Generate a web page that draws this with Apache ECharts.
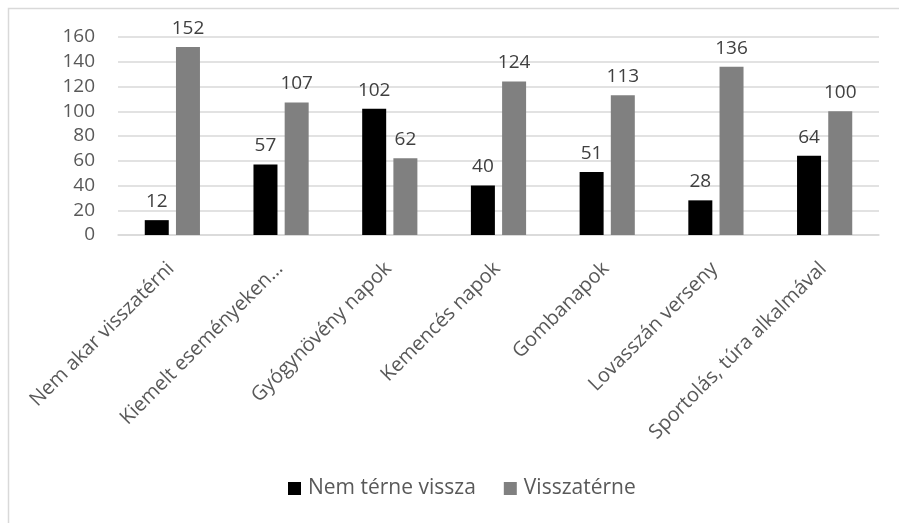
<!DOCTYPE html>
<html>
<head>
<meta charset="utf-8">
<script src="https://cdn.jsdelivr.net/npm/echarts@6/dist/echarts.min.js"></script>
<style>
html,body{margin:0;padding:0;background:#fff;}
#chart{width:899px;height:523px;}
</style>
</head>
<body>
<div id="chart"></div>
<script>
var categories=["Nem akar visszatérni","Kiemelt eseményeken…","Gyógynövény napok","Kemencés napok","Gombanapok","Lovasszán verseny","Sportolás, túra alkalmával"];
var nemTerneVissza=[12,57,102,40,51,28,64];
var visszaterne=[152,107,62,124,113,136,100];
var yTicks=[0,20,40,60,80,100,120,140,160];

var fontName="'Open Sans', sans-serif";
var chart=echarts.init(document.getElementById("chart"));

//keret: csak bal és felső szél látszik
var option={
	animation:false,
	graphic:[{
		type:"rect",
		shape:{x:8.5,y:8.5,width:1000,height:1000},
		style:{fill:"none",stroke:"#d9d9d9",lineWidth:1.5},
		silent:true
	}],
	grid:{left:118,right:20,top:37,bottom:288},
	legend:{
		bottom:19,
		left:283,
		itemWidth:13,
		itemHeight:13,
		itemGap:28,
		icon:"rect",
		textStyle:{fontFamily:fontName,fontSize:21,color:"#595959",padding:[0,0,0,2]},
		data:["Nem térne vissza","Visszatérne"]
	},
	xAxis:{
		type:"category",
		data:categories,
		axisLine:{lineStyle:{color:"#d9d9d9",width:1.5}},
		axisTick:{show:false},
		axisLabel:{
			rotate:45,
			interval:0,
			margin:15,
			verticalAlign:"top",
			padding:[0,12,0,0],
			fontFamily:fontName,
			fontSize:20,
			color:"#595959"
		}
	},
	yAxis:{
		type:"value",
		min:yTicks[0],
		max:yTicks[yTicks.length-1],
		interval:20,
		axisLine:{show:false},
		axisTick:{show:false},
		splitLine:{lineStyle:{color:"#d9d9d9",width:1.5}},
		axisLabel:{
			margin:23,
			fontFamily:fontName,
			fontSize:19,
			color:"#595959"
		}
	},
	series:[
		{
			name:"Nem térne vissza",
			type:"bar",
			data:nemTerneVissza,
			barWidth:24,
			barGap:"30%",
			itemStyle:{color:"#000000"},
			label:{show:true,position:"top",distance:9,fontFamily:fontName,fontSize:19,color:"#404040"}
		},
		{
			name:"Visszatérne",
			type:"bar",
			data:visszaterne,
			barWidth:24,
			barGap:"30%",
			itemStyle:{color:"#808080"},
			label:{show:true,position:"top",distance:9,fontFamily:fontName,fontSize:19,color:"#404040"}
		}
	]
};
chart.setOption(option);
</script>
</body>
</html>
